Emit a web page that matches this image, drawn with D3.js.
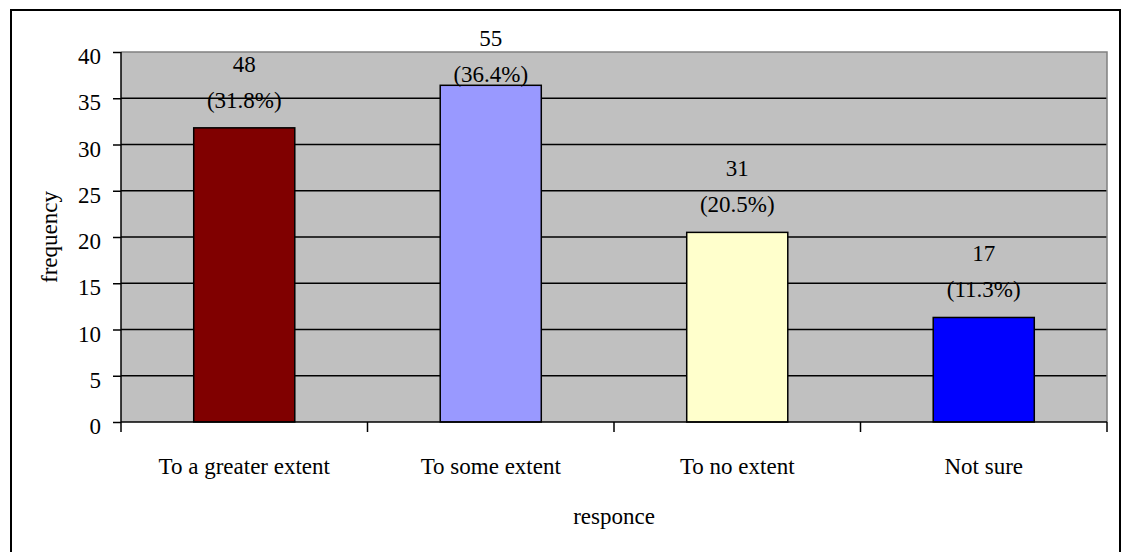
<!DOCTYPE html>
<html>
<head>
<meta charset="utf-8">
<script src="https://cdn.jsdelivr.net/npm/d3@7"></script>
<style>
  body { margin: 0; background: #fff; }
  svg text { font-family: 'Liberation Serif', 'Times New Roman', Times, 'DejaVu Serif', serif !important; fill: #000; }
</style>
</head>
<body>
<script>
// chart data
var categories = ["To a greater extent", "To some extent", "To no extent", "Not sure"];
var counts = [48, 55, 31, 17];
var percents = [31.8, 36.4, 20.5, 11.3];
var barColors = ["#800000", "#9999ff", "#ffffcc", "#0000ff"];
var yTicks = [0, 5, 10, 15, 20, 25, 30, 35, 40];

var FONT = "'Liberation Serif', 'Times New Roman', Times, serif";
var W = 1124, H = 552;
var margin = {top: 52, right: 17, bottom: 130, left: 121};
var w = W - margin.left - margin.right;
var h = H - margin.top - margin.bottom;

var svg = d3.select('body').append('svg')
    .attr('width', W)
    .attr('height', H)
    .attr('font-family', FONT);

// outer frame (bottom edge falls outside the picture)
svg.append('rect')
    .attr('x', 11).attr('y', 10)
    .attr('width', 1109).attr('height', 560)
    .attr('fill', 'none')
    .attr('stroke', '#000')
    .attr('stroke-width', 2);

var g = svg.append('g')
    .attr('transform', 'translate(' + margin.left + ',' + margin.top + ')');

var xScale = d3.scaleBand()
    .domain(categories)
    .range([0, w])
    .paddingInner(0.59)
    .paddingOuter(0.295);

var yScale = d3.scaleLinear()
    .domain([0, 40])
    .range([h, 0]);

// plot background
g.append('rect')
    .attr('width', w).attr('height', h)
    .attr('fill', '#c0c0c0');

// gridlines
g.selectAll('.grid')
    .data(yTicks.filter(function (d) { return d > 0 && d < 40; }))
    .enter()
    .append('line')
    .attr('class', 'grid')
    .attr('x1', 0).attr('x2', w)
    .attr('y1', function (d) { return yScale(d); })
    .attr('y2', function (d) { return yScale(d); })
    .attr('stroke', '#000')
    .attr('stroke-width', 1.5);

// plot frame top / right in gray
g.append('path')
    .attr('d', 'M0,' + yScale(40) + 'H' + w + 'V' + h)
    .attr('fill', 'none')
    .attr('stroke', '#808080')
    .attr('stroke-width', 1.5);

// bars
g.selectAll('.bar')
    .data(categories)
    .enter()
    .append('rect')
    .attr('class', 'bar')
    .attr('x', function (d) { return xScale(d); })
    .attr('width', xScale.bandwidth())
    .attr('y', function (d, i) { return yScale(percents[i]); })
    .attr('height', function (d, i) { return h - yScale(percents[i]); })
    .attr('fill', function (d, i) { return barColors[i]; })
    .attr('stroke', '#000')
    .attr('stroke-width', 1.5);

// Y-axis
var yAxis = d3.axisLeft(yScale)
    .tickValues(yTicks)
    .tickSize(8)
    .tickPadding(12);

var yg = g.append('g')
    .call(yAxis)
    .attr('font-family', FONT)
    .attr('font-size', 23);
yg.select('.domain').attr('stroke', '#000').attr('stroke-width', 1.5).attr('d', 'M0,' + h + 'V0');
yg.selectAll('.tick line').attr('stroke', '#000').attr('stroke-width', 1.5);
yg.selectAll('.tick text')
    .attr('dy', '0.5em');

// X-axis with ticks between categories
var step = xScale.step();
var xg = g.append('g')
    .attr('transform', 'translate(0,' + h + ')');
xg.append('line')
    .attr('x1', 0).attr('x2', w)
    .attr('stroke', '#000').attr('stroke-width', 1.5);
xg.selectAll('.xtick')
    .data(d3.range(categories.length + 1))
    .enter()
    .append('line')
    .attr('class', 'xtick')
    .attr('x1', function (i) { return i * step; })
    .attr('x2', function (i) { return i * step; })
    .attr('y1', 0).attr('y2', 10)
    .attr('stroke', '#000').attr('stroke-width', 1.5);
xg.selectAll('.xlabel')
    .data(categories)
    .enter()
    .append('text')
    .attr('class', 'xlabel')
    .attr('x', function (d) { return xScale(d) + xScale.bandwidth() / 2; })
    .attr('y', 52)
    .attr('text-anchor', 'middle')
    .attr('font-size', 23)
    .text(function (d) { return d; });

// value labels: count on top line, percentage below; kept inside plot top
var labels = g.selectAll('.lbl')
    .data(categories)
    .enter()
    .append('g')
    .attr('class', 'lbl')
    .attr('transform', function (d, i) {
        var x = xScale(d) + xScale.bandwidth() / 2;
        var base = Math.max(yScale(percents[i]) - 20, 30);
        return 'translate(' + x + ',' + base + ')';
    });
labels.append('text')
    .attr('text-anchor', 'middle')
    .attr('y', -36)
    .attr('font-size', 23)
    .text(function (d, i) { return counts[i]; });
labels.append('text')
    .attr('text-anchor', 'middle')
    .attr('font-size', 23)
    .text(function (d, i) { return '(' + percents[i].toFixed(1) + '%)'; });

// axis titles
svg.append('text')
    .attr('transform', 'translate(57,' + (margin.top + h / 2) + ') rotate(-90)')
    .attr('text-anchor', 'middle')
    .attr('font-size', 23)
    .text('frequency');

svg.append('text')
    .attr('x', margin.left + w / 2)
    .attr('y', 524)
    .attr('text-anchor', 'middle')
    .attr('font-size', 23)
    .text('responce');
</script>
</body>
</html>
